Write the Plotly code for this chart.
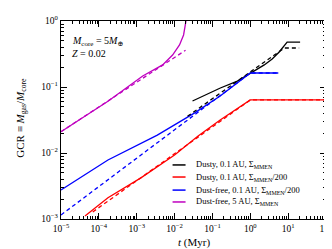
import plotly.graph_objects as go

# Dusty, 0.1 AU, Sigma_MMEN (black)
t_black = [0.0298, 0.0738, 0.162, 0.455, 1.0, 2.34, 3.79, 5.8, 9.4, 20.7]
gcr_black = [0.0614, 0.0783, 0.0966, 0.123, 0.163, 0.216, 0.266, 0.339, 0.48, 0.48]
t_black_d = [0.022, 7.9, 19.5]
gcr_black_d = [0.036, 0.39, 0.39]

# Dusty, 0.1 AU, Sigma_MMEN/200 (red)
t_red = [4.3e-5, 1.74e-4, 1.29e-3, 1.0e-2, 4.1e-2, 0.16, 1.0, 100.0]
gcr_red = [0.00111, 0.0021, 0.0042, 0.0093, 0.018, 0.0316, 0.0636, 0.0636]
t_red_d = [6.9e-5, 1.0, 100.0]
gcr_red_d = [0.00128, 0.0636, 0.0636]

# Dust-free, 0.1 AU, Sigma_MMEN/200 (blue)
t_blue = [1e-5, 1.74e-4, 3.5e-3, 3.4e-2, 0.16, 1.0, 5.5]
gcr_blue = [0.00275, 0.00783, 0.0187, 0.0406, 0.073, 0.163, 0.163]
t_blue_d = [1e-5, 1.0, 5.5]
gcr_blue_d = [0.00115, 0.163, 0.163]

# Dust-free, 5 AU, Sigma_MMEN (magenta)
t_mag = [1e-5, 1.74e-4, 1.44e-3, 4.83e-3, 8.86e-3, 1.35e-2, 1.73e-2, 1.95e-2, 2.0e-2]
gcr_mag = [0.021, 0.061, 0.147, 0.216, 0.305, 0.433, 0.614, 0.93, 1.0]
t_mag_d = [1e-5, 1.95e-2]
gcr_mag_d = [0.021, 0.36]

labels = [
    "Dusty, 0.1 AU, Σ<sub>MMEN</sub>",
    "Dusty, 0.1 AU, Σ<sub>MMEN</sub>/200",
    "Dust-free, 0.1 AU, Σ<sub>MMEN</sub>/200",
    "Dust-free, 5 AU, Σ<sub>MMEN</sub>",
]
colors = ["#000000", "#ff0000", "#0000ff", "#bf00bf"]

x_ticks = [1e-5, 1e-4, 1e-3, 1e-2, 1e-1, 1e0, 1e1, 1e2]
x_ticktext = ["10<sup>−5</sup>", "10<sup>−4</sup>", "10<sup>−3</sup>", "10<sup>−2</sup>",
              "10<sup>−1</sup>", "10<sup>0</sup>", "10<sup>1</sup>", "10<sup>2</sup>"]
y_ticks = [1e-3, 1e-2, 1e-1, 1e0]
y_ticktext = ["10<sup>−3</sup>", "10<sup>−2</sup>", "10<sup>−1</sup>", "10<sup>0</sup>"]

FONT = "Liberation Serif, DejaVu Serif, serif"


def minor_vals(decades):
    return [m * d for d in decades for m in range(2, 10)]


fig = go.Figure()
solid = [(t_black, gcr_black), (t_red, gcr_red), (t_blue, gcr_blue), (t_mag, gcr_mag)]
dashed = [(t_black_d, gcr_black_d), (t_red_d, gcr_red_d), (t_blue_d, gcr_blue_d), (t_mag_d, gcr_mag_d)]

for (x, y), lab, c in zip(solid, labels, colors):
    fig.add_trace(go.Scatter(x=x, y=y, mode="lines", name=lab, showlegend=False,
                             line=dict(color=c, width=1.3)))
for (x, y), c in zip(dashed, colors):
    fig.add_trace(go.Scatter(x=x, y=y, mode="lines", showlegend=False,
                             line=dict(color=c, width=1.3, dash="4px,3px")))

axis_common = dict(
    type="log", showgrid=False, zeroline=False, showline=True, linecolor="black",
    linewidth=1.3, mirror="allticks", ticks="inside", ticklen=6, tickwidth=1,
    tickcolor="black", automargin=False,
    tickfont=dict(family=FONT, size=9.5, color="black"),
)

fig.update_layout(
    width=332, height=249,
    margin=dict(l=53, r=14, t=13, b=38),
    paper_bgcolor="white", plot_bgcolor="white",
    font=dict(family=FONT, color="black"),
    xaxis=dict(axis_common, range=[-5, 2], tickmode="array", tickvals=x_ticks, ticktext=x_ticktext,
               minor=dict(tickmode="array", tickvals=minor_vals(x_ticks[:-1]), ticks="inside",
                          ticklen=3, tickwidth=0.8, tickcolor="black", showgrid=False)),
    yaxis=dict(axis_common, range=[-3, 0], tickmode="array", tickvals=y_ticks, ticktext=y_ticktext,
               minor=dict(tickmode="array", tickvals=minor_vals(y_ticks[:-1]), ticks="inside",
                          ticklen=3, tickwidth=0.8, tickcolor="black", showgrid=False)),
    showlegend=False,
)

# axis titles
fig.add_annotation(xref="paper", yref="paper", x=0.5, y=-0.121, xanchor="center", yanchor="middle",
                   text="<i>t</i> (Myr)", showarrow=False, font=dict(family=FONT, size=11))
fig.add_annotation(xref="paper", yref="paper", x=-0.152, y=0.51, xanchor="center", yanchor="middle",
                   textangle=-90, showarrow=False, font=dict(family=FONT, size=11),
                   text="GCR ≡ <i>M</i><sub>gas</sub>/<i>M</i><sub>core</sub>")

# legend drawn as line samples + labels in the lower right of the axes
leg_y = [0.273, 0.212, 0.146, 0.086]
for lab, c, yy in zip(labels, colors, leg_y):
    fig.add_shape(type="line", xref="paper", yref="paper", x0=0.421, x1=0.470, y0=yy, y1=yy,
                  line=dict(color=c, width=1.5))
    fig.add_annotation(xref="paper", yref="paper", x=0.503, y=yy, xanchor="left", yanchor="middle",
                       text=lab, showarrow=False, font=dict(family=FONT, size=8.5))

fig.add_annotation(xref="paper", yref="paper", x=0.035, y=0.894, xanchor="left", yanchor="middle",
                   text="<i>M</i><sub>core</sub> = 5<i>M</i><sub>⊕</sub>", showarrow=False,
                   font=dict(family=FONT, size=10))
fig.add_annotation(xref="paper", yref="paper", x=0.035, y=0.838, xanchor="left", yanchor="middle",
                   text="<i>Z</i> = 0.02", showarrow=False, font=dict(family=FONT, size=10))

fig.write_html("out.html")
